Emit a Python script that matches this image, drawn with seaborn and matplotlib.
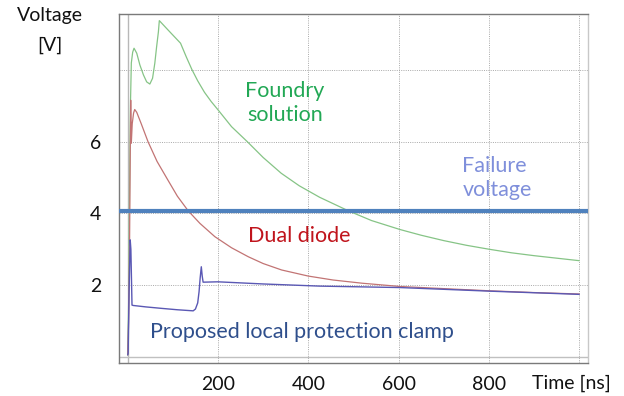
import numpy as np
import pandas as pd
import matplotlib
matplotlib.use("Agg")
import matplotlib.pyplot as plt
import seaborn as sns
from matplotlib.ticker import MultipleLocator, FixedLocator

# ---- data ----
foundry_t = [0, 2, 4, 6, 8, 11, 14, 20, 27, 35, 42, 49, 55, 60, 64, 68, 70, 90, 117,
             130, 142, 155, 170, 185, 200, 230, 265, 300, 340, 380, 425, 489, 540, 603,
             650, 700, 750, 800, 850, 900, 950, 1000]
foundry_v = [0.05, 1.5, 4.5, 7.0, 8.2, 8.5, 8.61, 8.47, 8.14, 7.86, 7.67, 7.61, 7.77, 8.19,
             8.65, 9.07, 9.38, 9.11, 8.75, 8.36, 8.02, 7.70, 7.38, 7.12, 6.89, 6.42, 6.0,
             5.56, 5.12, 4.77, 4.45, 4.07, 3.80, 3.55, 3.39, 3.24, 3.11, 3.0, 2.90, 2.82,
             2.75, 2.68]

dual_t = [0, 2, 4, 5.5, 6.6, 8, 10, 13, 15.5, 20, 30, 45, 65, 89, 110, 134, 160, 193,
          230, 267, 300, 341, 400, 455, 520, 603, 700, 800, 900, 1000]
dual_v = [0.05, 1.0, 3.0, 5.5, 7.16, 5.96, 6.5, 6.8, 6.9, 6.82, 6.5, 6.0, 5.45, 4.93,
          4.48, 4.07, 3.72, 3.35, 3.04, 2.79, 2.60, 2.42, 2.25, 2.14, 2.05, 1.96, 1.90,
          1.84, 1.79, 1.75]

clamp_t = [0, 1, 3, 5.5, 7, 9.5, 12, 40, 74, 110, 145, 150, 155, 158, 160.5, 163, 165,
           167, 200, 300, 425, 603, 800, 1000]
clamp_v = [0.05, 0.1, 1.8, 3.26, 3.0, 1.44, 1.43, 1.39, 1.35, 1.31, 1.28, 1.33, 1.5, 1.81,
           2.2, 2.51, 2.25, 2.08, 2.09, 2.03, 1.97, 1.93, 1.83, 1.74]

failure_voltage = 4.07

x_major = [0, 200, 400, 600, 800, 1000]
x_labels = ["", "200", "400", "600", "800", ""]
y_major = [0, 2, 4, 6, 8]
y_labels = ["", "2", "4", "6", ""]

# ---- figure ----
sns.set_style("white")
plt.rcParams["font.family"] = ["Lato", "DejaVu Sans"]

fig = plt.figure(figsize=(6.24, 3.96), dpi=100)
ax = fig.add_axes([119 / 624, 1 - 363 / 396, (588 - 119) / 624, (363 - 14) / 396])

df_f = pd.DataFrame({"t": foundry_t, "v": foundry_v})
df_d = pd.DataFrame({"t": dual_t, "v": dual_v})
df_c = pd.DataFrame({"t": clamp_t, "v": clamp_v})

# grid & zero lines
for xv in x_major[1:]:
    ax.axvline(xv, color="#a8a8a8", lw=0.7, ls=(0, (1, 1.3)), zorder=0)
for yv in y_major[1:]:
    ax.axhline(yv, color="#a8a8a8", lw=0.7, ls=(0, (1, 1.3)), zorder=0)
ax.axvline(0, color="#b8b8b8", lw=1.0, zorder=0)
ax.axhline(0, color="#c0c0c0", lw=1.0, zorder=0)

sns.lineplot(data=df_f, x="t", y="v", ax=ax, color="#86c486", lw=0.9, sort=False, zorder=3)
sns.lineplot(data=df_d, x="t", y="v", ax=ax, color="#c27474", lw=0.9, sort=False, zorder=3)
sns.lineplot(data=df_c, x="t", y="v", ax=ax, color="#5a58b4", lw=1.0, sort=False, zorder=4)

ax.axhline(failure_voltage, color="#4f81bd", lw=3.0, zorder=5)

ax.set_xlim(-19.3, 1019.5)
ax.set_ylim(-0.176, 9.565)

ax.xaxis.set_major_locator(FixedLocator(x_major))
ax.set_xticklabels(x_labels)
ax.xaxis.set_minor_locator(MultipleLocator(40))
ax.yaxis.set_major_locator(FixedLocator(y_major))
ax.set_yticklabels(y_labels)
ax.yaxis.set_minor_locator(MultipleLocator(0.4))

ax.tick_params(axis="both", which="major", direction="in", length=5, width=0.8,
               color="#909090", labelsize=14, labelcolor="#111111")
ax.tick_params(axis="both", which="minor", direction="in", length=3, width=0.7,
               color="#909090")
ax.tick_params(axis="x", which="major", pad=9)
ax.tick_params(axis="y", which="major", pad=13)
ax.set_xlabel("")
ax.set_ylabel("")

for side in ["left", "top", "bottom"]:
    ax.spines[side].set_color("#7a7a7a")
    ax.spines[side].set_linewidth(1.0)
ax.spines["right"].set_color("#c8c8c8")
ax.spines["right"].set_linewidth(1.0)

# annotations
ax.text(348, 7.07, "Foundry\nsolution", color="#22a855", fontsize=15.5,
        ha="center", va="center", linespacing=1.25)
ax.text(741.5, 5.0, "Failure\nvoltage", color="#7f8fdb", fontsize=15.5,
        ha="left", va="center", linespacing=1.25)
ax.text(381, 3.37, "Dual diode", color="#c0141c", fontsize=15.5, ha="center", va="center")
ax.text(387, 0.68, "Proposed local protection clamp", color="#2f4f8c", fontsize=15.5,
        ha="center", va="center")

fig.text(49.5 / 624, 1 - 16 / 396, "Voltage", fontsize=14, ha="center", va="center",
         color="#111111")
fig.text(49.5 / 624, 1 - 45 / 396, "[V]", fontsize=14, ha="center", va="center",
         color="#111111")
fig.text(571 / 624, 1 - 383 / 396, "Time [ns]", fontsize=14, ha="center", va="center",
         color="#111111")

fig.savefig("out.png", dpi=100, facecolor="white")
